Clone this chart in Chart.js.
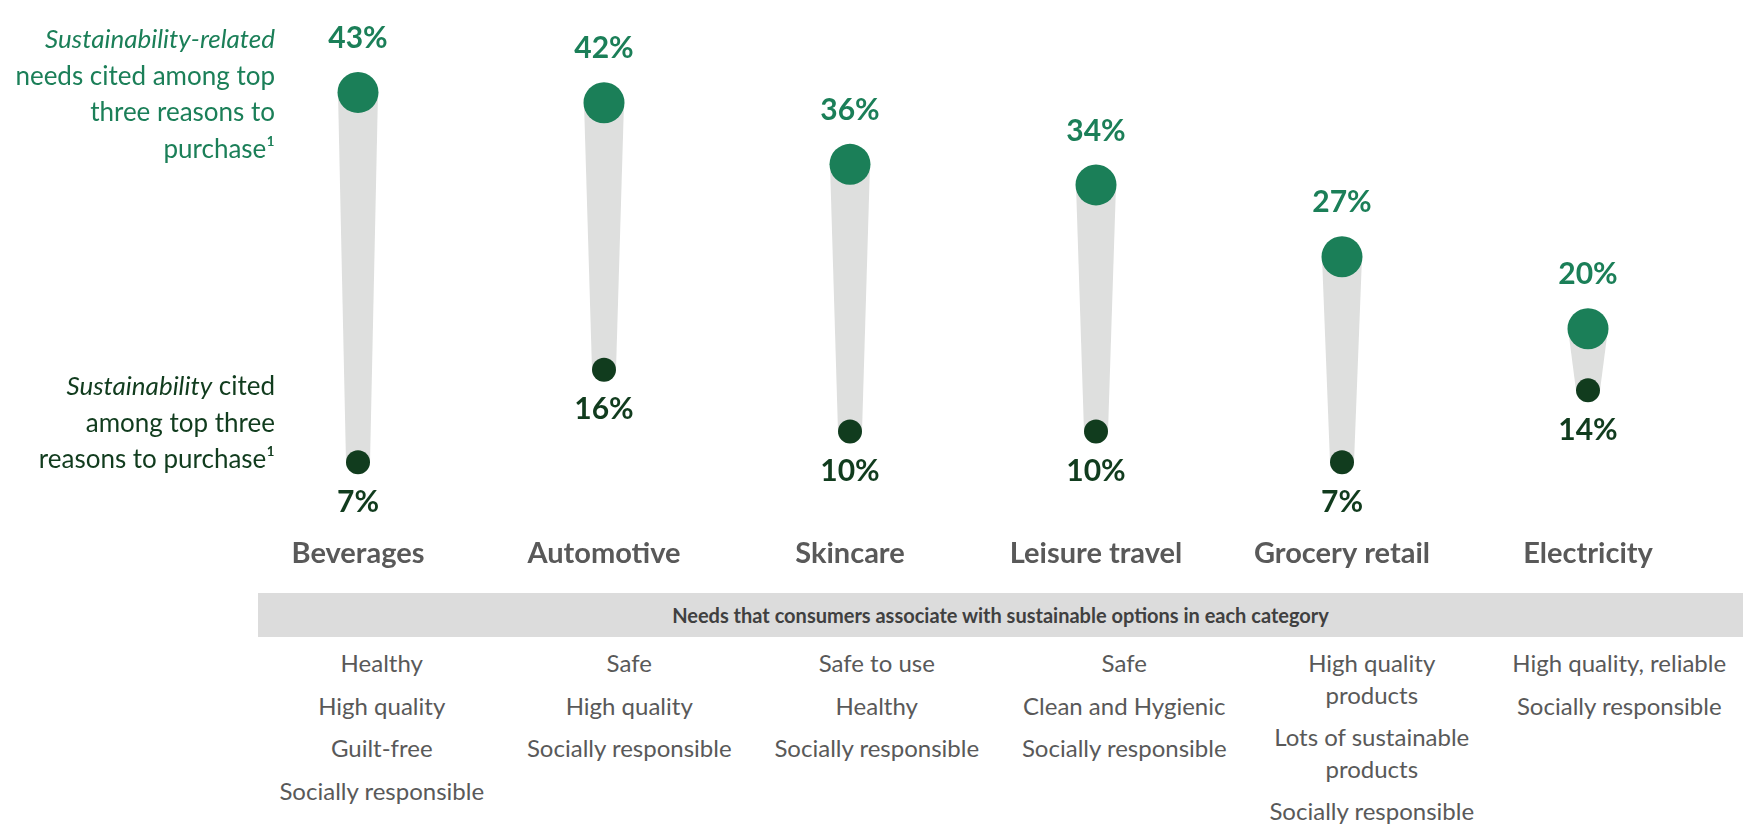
<!DOCTYPE html>
<html>
<head>
<meta charset="utf-8">
<script src="https://cdn.jsdelivr.net/npm/chart.js@4.4.1/dist/chart.umd.min.js"></script>
<style>
  html, body { margin: 0; padding: 0; background: #fff; }
  body { width: 1754px; height: 825px; position: relative; overflow: hidden; font-family: Lato, "Open Sans", sans-serif; }
  #chart { position: absolute; left: 0; top: 0; }
  .side { position: absolute; left: 0; width: 275px; text-align: right; font-size: 26px; line-height: 36.5px; }
  .side.related { top: 20px; color: #1b7f58; }
  .side.plain { top: 367px; color: #113c1e; }
  .band {
    position: absolute; left: 258px; top: 593px; width: 1485px; height: 44px;
    background: #dcdcdc; color: #404040; font-size: 20px; font-weight: bold;
    text-align: center; line-height: 44px;
  }
  .col { position: absolute; top: 647px; width: 247.5px; text-align: center; color: #595959; font-size: 24px; line-height: 31.5px; white-space: nowrap; }
  .col div { margin-bottom: 11px; }
</style>
</head>
<body>
<canvas id="chart" width="1754" height="580"></canvas>

<div class="side related"><i>Sustainability-related</i><br>needs cited among top<br>three reasons to<br>purchase¹</div>
<div class="side plain"><i>Sustainability</i> cited<br>among top three<br>reasons to purchase¹</div>

<div class="band">Needs that consumers associate with sustainable options in each category</div>
<div id="needs"></div>

<script>
const categories = ["Beverages", "Automotive", "Skincare", "Leisure travel", "Grocery retail", "Electricity"];
// share citing sustainability-related needs among top three reasons (%)
const relatedNeeds = [43, 42, 36, 34, 27, 20];
// share citing sustainability itself among top three reasons (%)
const sustainability = [7, 16, 10, 10, 7, 14];

const needsBeverages = ["Healthy", "High quality", "Guilt-free", "Socially responsible"];
const needsAutomotive = ["Safe", "High quality", "Socially responsible"];
const needsSkincare = ["Safe to use", "Healthy", "Socially responsible"];
const needsTravel = ["Safe", "Clean and Hygienic", "Socially responsible"];
const needsGrocery = ["High quality<br>products", "Lots of sustainable<br>products", "Socially responsible"];
const needsElectricity = ["High quality, reliable", "Socially responsible"];

const GREEN = "#1b7f58";
const DARK = "#113c1e";

// needs table under the chart
const needsCols = [needsBeverages, needsAutomotive, needsSkincare, needsTravel, needsGrocery, needsElectricity];
const needsBox = document.getElementById("needs");
needsCols.forEach((items, i) => {
  const col = document.createElement("div");
  col.className = "col";
  col.style.left = (258 + i * 247.5) + "px";
  col.innerHTML = items.map((t) => `<div>${t}</div>`).join("");
  needsBox.appendChild(col);
});

// gray tapered stem between the two dots
const taper = {
  id: "taper",
  beforeDatasetsDraw(chart) {
    const ctx = chart.ctx;
    const top = chart.getDatasetMeta(0).data;
    const bottom = chart.getDatasetMeta(1).data;
    ctx.save();
    ctx.fillStyle = "#dedfde";
    top.forEach((p, i) => {
      const q = bottom[i];
      ctx.beginPath();
      ctx.moveTo(p.x - 20, p.y);
      ctx.lineTo(p.x + 20, p.y);
      ctx.lineTo(q.x + 12, q.y);
      ctx.lineTo(q.x - 12, q.y);
      ctx.closePath();
      ctx.fill();
    });
    ctx.restore();
  },
};

// percentage labels above / below the dots
const valueLabels = {
  id: "valueLabels",
  afterDatasetsDraw(chart) {
    const ctx = chart.ctx;
    ctx.save();
    ctx.font = "bold 30px Lato";
    ctx.textAlign = "center";
    ctx.textBaseline = "middle";
    chart.getDatasetMeta(0).data.forEach((p, i) => {
      ctx.fillStyle = GREEN;
      ctx.fillText(relatedNeeds[i] + "%", p.x, p.y - 54);
    });
    chart.getDatasetMeta(1).data.forEach((p, i) => {
      ctx.fillStyle = DARK;
      ctx.fillText(sustainability[i] + "%", p.x, p.y + 40);
    });
    ctx.restore();
  },
};

new Chart(document.getElementById("chart").getContext("2d"), {
  type: "line",
  data: {
    labels: categories,
    datasets: [
      {
        label: "Sustainability-related needs",
        data: relatedNeeds,
        showLine: false,
        pointRadius: 20.5,
        pointHoverRadius: 20.5,
        pointBackgroundColor: GREEN,
        pointBorderWidth: 0,
        clip: false,
      },
      {
        label: "Sustainability",
        data: sustainability,
        showLine: false,
        pointRadius: 12,
        pointHoverRadius: 12,
        pointBackgroundColor: DARK,
        pointBorderWidth: 0,
        clip: false,
      },
    ],
  },
  options: {
    responsive: false,
    animation: false,
    layout: { padding: { left: 235, right: 43, top: 7, bottom: 7 } },
    scales: {
      x: {
        offset: true,
        grid: { display: false, drawTicks: false },
        border: { display: false },
        ticks: {
          color: "#595959",
          font: { family: "Lato", size: 29, weight: "bold" },
          padding: 2,
          maxRotation: 0,
          autoSkip: false,
        },
      },
      y: { display: false, min: 0, max: 50 },
    },
    plugins: {
      legend: { display: false },
      tooltip: { enabled: false },
    },
  },
  plugins: [taper, valueLabels],
});
</script>
</body>
</html>
